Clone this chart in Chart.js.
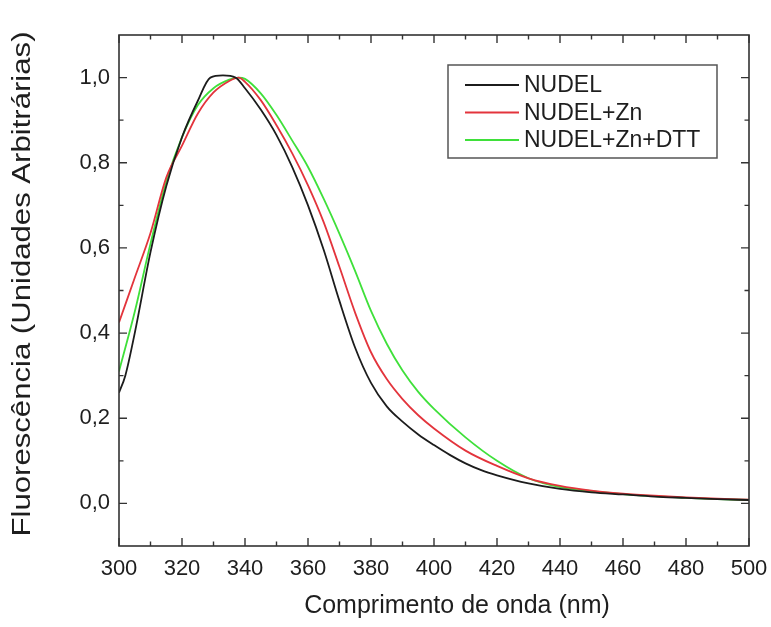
<!DOCTYPE html>
<html>
<head>
<meta charset="utf-8">
<script src="https://cdn.jsdelivr.net/npm/chart.js@4.4.0/dist/chart.umd.min.js"></script>
<style>
  html, body { margin: 0; padding: 0; background: #fff; }
  #wrap { width: 771px; height: 627px; }
</style>
</head>
<body>
<div id="wrap"><canvas id="c" width="771" height="627"></canvas></div>
<script>
// ---- data ----
const seriesNames = ['NUDEL', 'NUDEL+Zn', 'NUDEL+Zn+DTT'];

const nudelX = [300, 302, 305, 310, 315, 320, 325, 329, 333, 337, 340, 345, 350, 355, 360, 365, 370, 375, 380, 385, 390, 395, 400, 405, 410, 415, 420, 430, 440, 450, 460, 470, 480, 490, 500];
const nudelY = [0.26, 0.30, 0.40, 0.59, 0.745, 0.86, 0.945, 1.0, 1.005, 1.0, 0.975, 0.925, 0.865, 0.79, 0.70, 0.595, 0.475, 0.365, 0.283, 0.228, 0.192, 0.162, 0.137, 0.114, 0.094, 0.078, 0.066, 0.047, 0.034, 0.026, 0.021, 0.016, 0.013, 0.010, 0.008];

const znX = [300, 305, 310, 315, 320, 325, 330, 335, 338, 340, 345, 350, 355, 360, 365, 370, 375, 380, 385, 390, 395, 400, 410, 420, 430, 440, 450, 460, 470, 480, 490, 500];
const znY = [0.425, 0.53, 0.635, 0.765, 0.84, 0.915, 0.965, 0.992, 1.0, 0.99, 0.947, 0.888, 0.822, 0.747, 0.66, 0.555, 0.447, 0.355, 0.292, 0.245, 0.207, 0.176, 0.124, 0.088, 0.059, 0.041, 0.030, 0.023, 0.018, 0.014, 0.011, 0.009];

const dttX = [300, 305, 310, 315, 320, 325, 330, 335, 338, 340, 345, 350, 355, 360, 365, 370, 375, 380, 385, 390, 395, 400, 410, 420, 430, 440, 450, 460, 470, 480, 490, 500];
const dttY = [0.31, 0.45, 0.61, 0.755, 0.86, 0.935, 0.975, 0.995, 1.0, 0.997, 0.963, 0.912, 0.852, 0.79, 0.715, 0.633, 0.545, 0.452, 0.375, 0.312, 0.262, 0.222, 0.155, 0.10, 0.059, 0.038, 0.029, 0.022, 0.017, 0.013, 0.010, 0.008];

const xTickValues = [300, 320, 340, 360, 380, 400, 420, 440, 460, 480, 500];
const yTickValues = [0.0, 0.2, 0.4, 0.6, 0.8, 1.0];
const xMinorValues = [310, 330, 350, 370, 390, 410, 430, 450, 470, 490];
const yMinorValues = [0.1, 0.3, 0.5, 0.7, 0.9];

const xTitle = 'Comprimento de onda (nm)';
const yTitle = 'Fluorescência (Unidades Arbitrárias)';
const colors = ['#1c1c1c', '#e3343c', '#3fe03a'];

const FONT = '"Liberation Sans", Arial, Helvetica, sans-serif';

function pts(xs, ys) { return xs.map((x, i) => ({ x: x, y: ys[i] })); }

const frameAndLegend = {
  id: 'frameAndLegend',
  beforeDraw(chart) {
    const ctx = chart.ctx;
    ctx.save();
    ctx.fillStyle = '#ffffff';
    ctx.fillRect(0, 0, chart.width, chart.height);
    ctx.restore();
  },
  afterDraw(chart) {
    const ctx = chart.ctx;
    const a = chart.chartArea;
    const xs = chart.scales.x, ys = chart.scales.y;
    ctx.save();
    ctx.strokeStyle = '#333333';
    ctx.lineWidth = 1.6;
    ctx.strokeRect(a.left, a.top, a.right - a.left, a.bottom - a.top);
    // inward ticks on all four sides
    ctx.lineWidth = 1.4;
    const major = 8, minor = 4.5;
    ctx.beginPath();
    xTickValues.forEach(v => {
      const p = xs.getPixelForValue(v);
      ctx.moveTo(p, a.bottom); ctx.lineTo(p, a.bottom - major);
      ctx.moveTo(p, a.top); ctx.lineTo(p, a.top + major);
    });
    xMinorValues.forEach(v => {
      const p = xs.getPixelForValue(v);
      ctx.moveTo(p, a.bottom); ctx.lineTo(p, a.bottom - minor);
      ctx.moveTo(p, a.top); ctx.lineTo(p, a.top + minor);
    });
    yTickValues.forEach(v => {
      const p = ys.getPixelForValue(v);
      ctx.moveTo(a.left, p); ctx.lineTo(a.left + major, p);
      ctx.moveTo(a.right, p); ctx.lineTo(a.right - major, p);
    });
    yMinorValues.forEach(v => {
      const p = ys.getPixelForValue(v);
      ctx.moveTo(a.left, p); ctx.lineTo(a.left + minor, p);
      ctx.moveTo(a.right, p); ctx.lineTo(a.right - minor, p);
    });
    ctx.stroke();

    // axis titles
    ctx.fillStyle = '#1e1e1e';
    ctx.font = '25px ' + FONT;
    ctx.textAlign = 'center';
    ctx.textBaseline = 'alphabetic';
    ctx.fillText(xTitle, 457, 613);
    ctx.save();
    ctx.translate(30, 284);
    ctx.rotate(-Math.PI / 2);
    ctx.font = '25px ' + FONT;
    const w = ctx.measureText(yTitle).width;
    ctx.scale(505 / w, 1);
    ctx.fillText(yTitle, 0, 0);
    ctx.restore();

    // legend box
    const lx = 448, ly = 65, lw = 269, lh = 93;
    ctx.fillStyle = '#ffffff';
    ctx.fillRect(lx, ly, lw, lh);
    ctx.strokeStyle = '#555555';
    ctx.lineWidth = 1.5;
    ctx.strokeRect(lx, ly, lw, lh);
    ctx.font = '23px ' + FONT;
    ctx.textAlign = 'left';
    ctx.textBaseline = 'middle';
    chart.data.datasets.forEach((ds, i) => {
      const y = 85 + i * 27.5;
      ctx.strokeStyle = ds.borderColor;
      ctx.lineWidth = 1.8;
      ctx.beginPath();
      ctx.moveTo(465, y); ctx.lineTo(519, y);
      ctx.stroke();
      ctx.fillStyle = '#1e1e1e';
      ctx.fillText(ds.label, 524, y + 1);
    });
    ctx.restore();
  }
};

new Chart(document.getElementById('c'), {
  type: 'line',
  data: {
    datasets: [
      { label: seriesNames[0], data: pts(nudelX, nudelY), borderColor: colors[0] },
      { label: seriesNames[1], data: pts(znX, znY), borderColor: colors[1] },
      { label: seriesNames[2], data: pts(dttX, dttY), borderColor: colors[2] }
    ].map(d => Object.assign(d, {
      borderWidth: 1.8, pointRadius: 0, fill: false,
      cubicInterpolationMode: 'monotone'
    }))
  },
  options: {
    responsive: false,
    animation: false,
    layout: { padding: { top: 35, right: 22, left: 0, bottom: 0 } },
    plugins: { legend: { display: false }, tooltip: { enabled: false } },
    scales: {
      x: {
        type: 'linear', min: 300, max: 500,
        afterBuildTicks: s => { s.ticks = xTickValues.map(v => ({ value: v })); },
        afterFit: s => { s.height = 81; s.paddingLeft = 0; s.paddingRight = 0; },
        grid: { display: false, drawTicks: false },
        border: { display: false },
        ticks: { padding: 10, color: '#1e1e1e', font: { family: FONT, size: 22 }, maxRotation: 0,
                 callback: v => String(v) }
      },
      y: {
        type: 'linear', min: -0.1, max: 1.1,
        afterBuildTicks: s => { s.ticks = yTickValues.map(v => ({ value: v })); },
        afterFit: s => { s.width = 119; s.paddingTop = 0; s.paddingBottom = 0; },
        grid: { display: false, drawTicks: false },
        border: { display: false },
        ticks: { padding: 9, color: '#1e1e1e', font: { family: FONT, size: 22 },
                 callback: v => Number(v).toFixed(1).replace('.', ',') }
      }
    }
  },
  plugins: [frameAndLegend]
});
</script>
</body>
</html>
